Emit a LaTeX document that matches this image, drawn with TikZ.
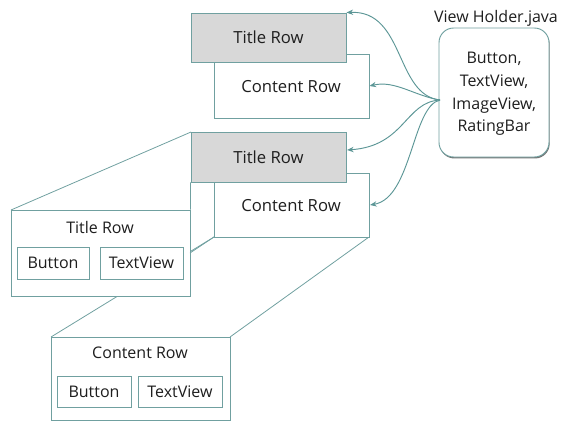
\documentclass[tikz,border=0pt]{standalone}
\usepackage{fontspec}
\setmainfont{Open Sans}
\usetikzlibrary{fit,shadows,arrows.meta}

\definecolor{rim}{RGB}{112,160,160}
\definecolor{wire}{RGB}{92,150,150}
\definecolor{rowgray}{RGB}{216,216,216}
\definecolor{ink}{RGB}{30,30,30}

\tikzset{
  px/.style={x=0.75pt,y=-0.75pt},
  shade/.style={drop shadow={shadow xshift=0.5pt,shadow yshift=-1.1pt,fill=black,opacity=0.55}},
  rowbox/.style={draw=rim,line width=0.7pt,fill=white,inner sep=0pt,shade},
  titlebox/.style={rowbox,fill=rowgray},
  widget/.style={draw=rim,line width=0.7pt,fill=white,inner sep=0pt,shade},
  caption/.style={font=\fontsize{12}{14}\selectfont,text=ink,inner sep=0pt},
  bigcaption/.style={caption,font=\fontsize{12.5}{15}\selectfont},
  link/.style={draw=rim,line width=0.6pt},
  feed/.style={draw=wire,line width=0.7pt,-{Stealth[length=5pt,width=4pt]}},
}

\begin{document}
\begin{tikzpicture}[px]
\useasboundingbox (0,0) rectangle (562,422);

% corner points used by the zoom lines
\coordinate (c2bl) at (214,237);
\coordinate (c2br) at (369,237);

% zoom lines (behind every box)
\draw[link] (11,210) coordinate (etl) -- (191,132) coordinate (t2tl);
\draw[link] (51,337) coordinate (ecl) -- (c2bl);
\draw[link] (230,337) coordinate (ecr) -- (c2br);

% list rows
\node[rowbox,fit={(214,54) (369,118)}] (c1) {};
\node[bigcaption] (c1t) at (291,87) {Content Row};
\node[titlebox,fit={(191,13) (346,62)}] (t1) {};
\node[bigcaption] (t1t) at (t1.center) {Title Row};

\node[rowbox,fit={(214,173) (369,237)}] (c2) {};
\node[bigcaption] (c2t) at (291,206) {Content Row};
\node[titlebox,fit={(191,132) (346,182)}] (t2) {};
\node[bigcaption] (t2t) at (t2.center) {Title Row};

% expanded title row
\node[rowbox,fit={(11,210) (190,296)}] (et) {};
\draw[link] (et.north east) -- (t2.south west);
\draw[link] (190,253) -- (c2bl);
\node[caption] (ett) at (100,227) {Title Row};
\node[widget,fit={(17,247) (89,279)}] (eb) {};
\node[caption] (ebt) at (eb.center) {Button};
\node[widget,fit={(100,247) (183,279)}] (ev) {};
\node[caption] (evt) at (ev.center) {TextView};

% expanded content row
\node[rowbox,fit={(51,337) (230,420)}] (ec) {};
\node[caption] (ect) at (140,353) {Content Row};
\node[widget,fit={(57,376) (131,407)}] (cb) {};
\node[caption] (cbt) at (cb.center) {Button};
\node[widget,fit={(138,376) (222,407)}] (cv) {};
\node[caption] (cvt) at (cv.center) {TextView};

% view holder
\node[draw=rim,line width=0.7pt,fill=white,rounded corners=11pt,inner sep=0pt,shade,
      fit={(439,28) (549,157)}] (vh) {};
\node[caption,align=center,font=\fontsize{12}{14}\selectfont] (vht) at (494,94)
  {Button,\\[3pt]TextView,\\[3pt]ImageView,\\[3pt]RatingBar};
\node[caption,font=\fontsize{12}{14}\selectfont] (vhl) at (496,18) {View Holder.java};

% holder references
\coordinate (src) at (440,100);
\draw[feed] (src) .. controls (395,95) and (405,10) .. (t1.north east);
\draw[feed] (src) .. controls (415,96) and (395,80) .. (c1.east);
\draw[feed] (src) .. controls (405,102) and (405,146) .. (347,150);
\draw[feed] (src) .. controls (412,106) and (412,198) .. (370,205);
\end{tikzpicture}
\end{document}
